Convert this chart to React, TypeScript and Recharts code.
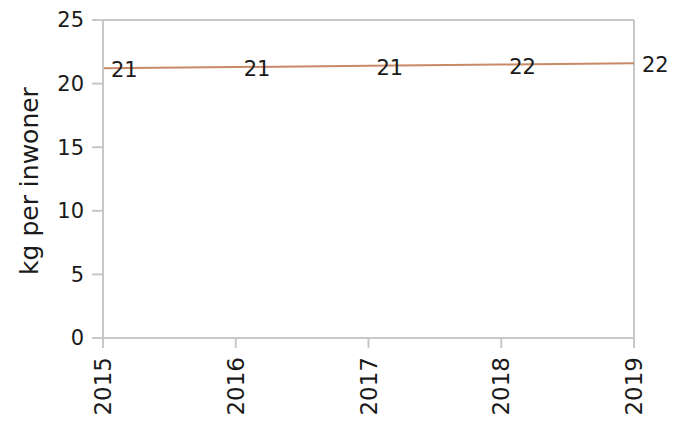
import React from 'react';
import { LineChart, Line, XAxis, YAxis, ReferenceLine } from 'recharts';

const years = [2015, 2016, 2017, 2018, 2019];
const kgPerInwoner = [21.2, 21.3, 21.4, 21.5, 21.6];
const yTicks = [0, 5, 10, 15, 20, 25];

const data = years.map((year, i) => ({ year, value: kgPerInwoner[i] }));

const axisColor = '#c8c8c8';
const textColor = '#1a1a1a';
const font = 'DejaVu Sans, Verdana, sans-serif';

const ValueLabel = (props: any) => {
  const { x, y, value } = props;
  return (
    <text
      x={x + 8}
      y={y + 2}
      fontSize={21}
      fontFamily={font}
      fill={textColor}
      textAnchor="start"
      dominantBaseline="central"
    >
      {Math.round(value)}
    </text>
  );
};

const AxisTitle = (props: any) => {
  const { viewBox } = props;
  const x = viewBox.x + 38;
  const y = viewBox.y + viewBox.height / 2 + 2;
  return (
    <text
      x={x}
      y={y}
      transform={`rotate(-90, ${x}, ${y})`}
      textAnchor="middle"
      fontSize={25}
      fontFamily={font}
      fill={textColor}
    >
      kg per inwoner
    </text>
  );
};

const App: React.FC = () => {
  return (
    <div style={{ position: 'absolute', left: 0, top: 0, background: '#fff' }}>
      <LineChart
        width={697}
        height={429}
        data={data}
        margin={{ top: 20, right: 63, left: 0, bottom: 0 }}
      >
        <XAxis
          dataKey="year"
          type="number"
          domain={[2015, 2019]}
          ticks={years}
          height={91}
          stroke={axisColor}
          strokeWidth={2}
          tickSize={10}
          tickLine={{ stroke: axisColor, strokeWidth: 2 }}
          interval={0}
          tick={({ x, y, payload }: any) => (
            <text
              x={x}
              y={y + 7}
              transform={`rotate(-90, ${x}, ${y + 7})`}
              textAnchor="end"
              dominantBaseline="central"
              fontSize={23}
              fontFamily={font}
              fill={textColor}
            >
              {payload.value}
            </text>
          )}
        />
        <YAxis
          domain={[0, 25]}
          ticks={yTicks}
          width={103}
          stroke={axisColor}
          strokeWidth={2}
          tickSize={11}
          tickMargin={8}
          tickLine={{ stroke: axisColor, strokeWidth: 2 }}
          tick={{ fontSize: 21, fontFamily: font, fill: textColor }}
          label={<AxisTitle />}
        />
        <ReferenceLine y={25} stroke={axisColor} strokeWidth={2} />
        <ReferenceLine x={2019} stroke={axisColor} strokeWidth={2} />
        <Line
          type="linear"
          dataKey="value"
          stroke="#c98a6a"
          strokeWidth={2}
          dot={false}
          isAnimationActive={false}
          label={<ValueLabel />}
        />
      </LineChart>
    </div>
  );
};

export default App;
